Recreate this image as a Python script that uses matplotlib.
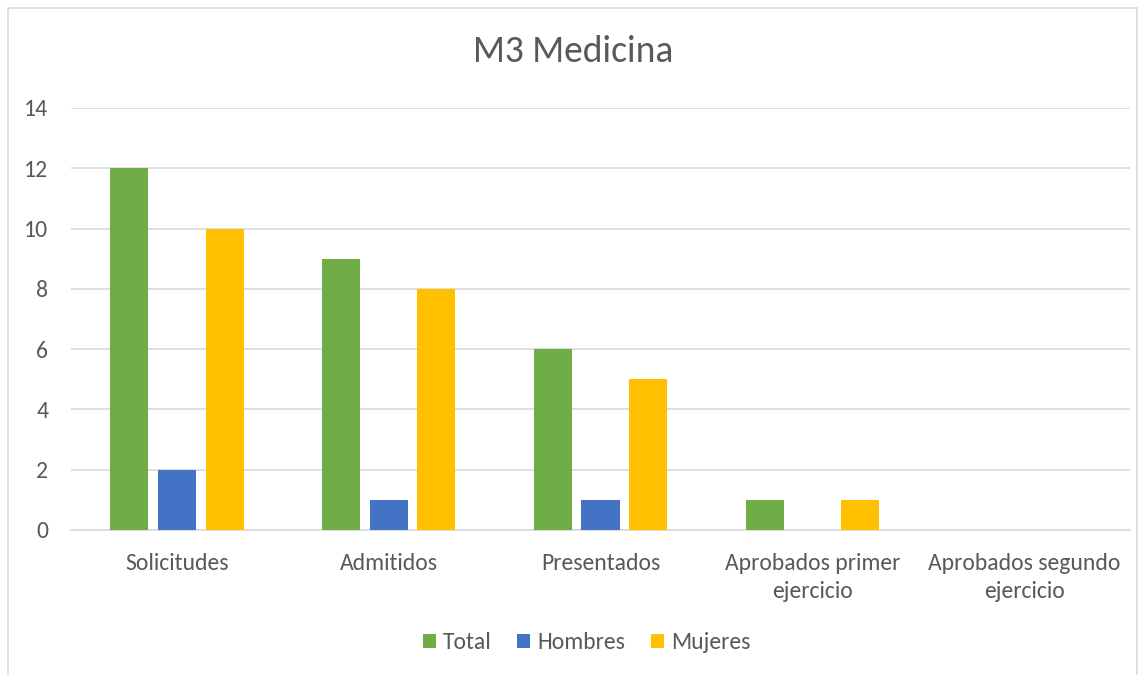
import numpy as np
import matplotlib
matplotlib.use('Agg')
import matplotlib.pyplot as plt
from matplotlib.patches import Rectangle

# data
categories = ['Solicitudes', 'Admitidos', 'Presentados',
              'Aprobados primer\nejercicio', 'Aprobados segundo\nejercicio']
total = [12, 9, 6, 1, 0]
hombres = [2, 1, 1, 0, 0]
mujeres = [10, 8, 5, 1, 0]

plt.rcParams['font.family'] = ['Carlito', 'Liberation Sans', 'DejaVu Sans']
text_color = '#595959'

fig = plt.figure(figsize=(11.46, 6.75), dpi=100)
ax = fig.add_axes([0.062, 0.215, 0.924, 0.625])

# chart area border
fig.patches.append(Rectangle((0.007, -0.02), 0.985, 1.008, transform=fig.transFigure,
                             fill=False, edgecolor='#D9D9D9', linewidth=1.2))

x = np.arange(len(categories))
w = 0.18
step = 0.225
ax.bar(x - step, total, w, color='#70AD47', label='Total', zorder=3)
ax.bar(x, hombres, w, color='#4472C4', label='Hombres', zorder=3)
ax.bar(x + step, mujeres, w, color='#FFC000', label='Mujeres', zorder=3)

ax.set_xlim(-0.5, len(categories) - 0.5)
ax.set_ylim(0, 14)
ax.set_yticks(range(0, 15, 2))
ax.set_xticks(x)
ax.set_xticklabels(categories, linespacing=1.4)
ax.yaxis.grid(True, color='#D9D9D9', linewidth=1.2, zorder=0)
ax.tick_params(axis='both', length=0, labelsize=17, colors=text_color, pad=17)
ax.tick_params(axis='y', pad=16.5)
for s in ['top', 'right', 'left']:
    ax.spines[s].set_visible(False)
ax.spines['bottom'].set_color('#D9D9D9')
ax.spines['bottom'].set_linewidth(1.2)

fig.text(0.5, 0.923, 'M3 Medicina', ha='center', va='center', fontsize=27, color=text_color)

fig.legend(loc='center', bbox_to_anchor=(0.512, 0.048), ncol=3, frameon=False,
           fontsize=17, handlelength=0.55, handleheight=0.55, handletextpad=0.3,
           columnspacing=1.1, labelcolor=text_color)

fig.savefig('out.png', dpi=100)
